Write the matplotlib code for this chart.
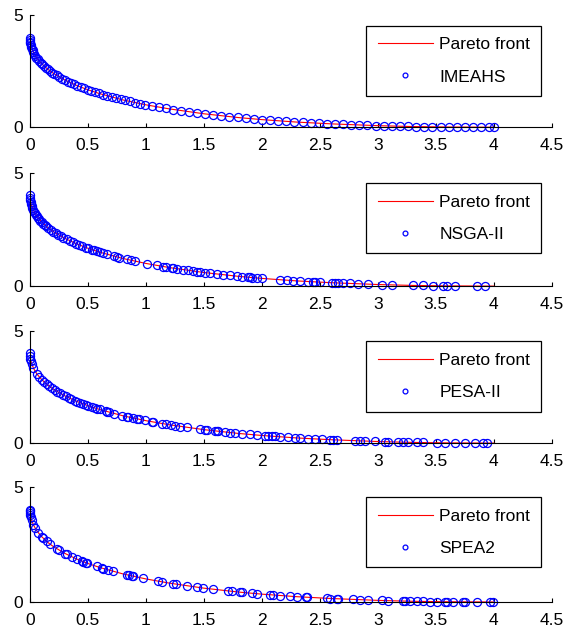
import matplotlib
matplotlib.use("Agg")
import matplotlib.pyplot as plt

plt.rcParams['font.family'] = ['Liberation Sans', 'DejaVu Sans']

# Pareto front (red line)
front_x = [0, 0.002, 0.005, 0.01, 0.03, 0.06, 0.1, 0.15, 0.2, 0.3, 0.4, 0.5, 0.6, 0.8,
           1.0, 1.2, 1.5, 1.8, 2.0, 2.3, 2.6, 3.0, 3.3, 3.6, 4.0]
front_y = [4.00, 3.82, 3.72, 3.61, 3.34, 3.08, 2.84, 2.60, 2.41, 2.11, 1.87, 1.67, 1.50, 1.22,
           1.00, 0.82, 0.60, 0.43, 0.34, 0.23, 0.15, 0.07, 0.03, 0.01, 0.00]

imeahs_x = [0, 0.0005, 0.002, 0.004, 0.007, 0.011, 0.016, 0.022, 0.029, 0.037, 0.046, 0.056,
            0.067, 0.079, 0.092, 0.106, 0.121, 0.137, 0.154, 0.172, 0.191, 0.211, 0.232, 0.254,
            0.277, 0.301, 0.326, 0.352, 0.379, 0.407, 0.436, 0.466, 0.497, 0.529, 0.562, 0.596,
            0.631, 0.667, 0.704, 0.742, 0.781, 0.821, 0.862, 0.904, 0.947, 0.991, 1.05, 1.11,
            1.17, 1.23, 1.30, 1.37, 1.44, 1.51, 1.58, 1.65, 1.72, 1.79, 1.86, 1.93, 2.00, 2.07,
            2.14, 2.21, 2.28, 2.35, 2.42, 2.49, 2.56, 2.63, 2.70, 2.77, 2.84, 2.91, 2.98, 3.05,
            3.12, 3.19, 3.26, 3.33, 3.40, 3.47, 3.54, 3.61, 3.68, 3.75, 3.82, 3.89, 3.96, 4.00]
imeahs_y = [4.00, 3.91, 3.82, 3.75, 3.67, 3.59, 3.51, 3.43, 3.35, 3.27, 3.19, 3.11,
            3.03, 2.95, 2.88, 2.80, 2.73, 2.66, 2.58, 2.51, 2.44, 2.37, 2.31, 2.24,
            2.17, 2.11, 2.04, 1.98, 1.92, 1.86, 1.79, 1.74, 1.68, 1.62, 1.56, 1.51,
            1.45, 1.40, 1.35, 1.30, 1.25, 1.20, 1.15, 1.10, 1.05, 1.01, 0.95, 0.90,
            0.84, 0.79, 0.74, 0.69, 0.64, 0.59, 0.55, 0.51, 0.47, 0.44, 0.40, 0.37, 0.34, 0.32,
            0.29, 0.26, 0.24, 0.22, 0.20, 0.18, 0.16, 0.14, 0.13, 0.11, 0.10, 0.09, 0.07, 0.06,
            0.05, 0.05, 0.04, 0.03, 0.02, 0.02, 0.01, 0.01, 0.01, 0.00, 0.00, 0.00, 0.00, 0.00]

nsga_x = [0, 0.001, 0.003, 0.006, 0.010, 0.014, 0.020, 0.029, 0.036, 0.043, 0.050, 0.057,
          0.068, 0.080, 0.090, 0.101, 0.115, 0.126, 0.138, 0.158, 0.178, 0.201, 0.224, 0.244,
          0.264, 0.287, 0.316, 0.345, 0.368, 0.397, 0.422, 0.445, 0.483, 0.503, 0.532, 0.555,
          0.580, 0.603, 0.632, 0.661, 0.727, 0.747, 0.770, 0.833, 0.871, 0.905, 1.006, 1.092,
          1.149, 1.170, 1.221, 1.236, 1.264, 1.322, 1.365, 1.402, 1.437, 1.466, 1.509, 1.552,
          1.609, 1.667, 1.724, 1.782, 1.825, 1.882, 1.897, 1.911, 1.954, 1.997, 2.155, 2.213,
          2.270, 2.328, 2.399, 2.443, 2.457, 2.500, 2.600, 2.629, 2.658, 2.701, 2.759, 2.830,
          2.917, 3.032, 3.118, 3.305, 3.391, 3.477, 3.563, 3.592, 3.664, 3.851, 3.922]
nsga_y = [4.00, 3.87, 3.78, 3.70, 3.61, 3.54, 3.45, 3.35, 3.28, 3.21, 3.16, 3.10,
          3.02, 2.95, 2.89, 2.83, 2.76, 2.71, 2.65, 2.57, 2.49, 2.41, 2.33, 2.27,
          2.21, 2.14, 2.07, 2.00, 1.94, 1.88, 1.82, 1.78, 1.70, 1.67, 1.61, 1.58,
          1.53, 1.50, 1.45, 1.41, 1.32, 1.29, 1.26, 1.18, 1.14, 1.10, 0.99, 0.91,
          0.86, 0.84, 0.80, 0.79, 0.77, 0.72, 0.69, 0.67, 0.64, 0.62, 0.60, 0.57,
          0.54, 0.50, 0.47, 0.44, 0.42, 0.39, 0.39, 0.38, 0.36, 0.34, 0.28, 0.26,
          0.24, 0.22, 0.20, 0.19, 0.19, 0.18, 0.15, 0.14, 0.14, 0.13, 0.12, 0.10,
          0.09, 0.07, 0.05, 0.03, 0.03, 0.02, 0.01, 0.01, 0.01, 0.00, 0.00]

pesa_x = [0, 0.001, 0.004, 0.008, 0.014, 0.029, 0.057, 0.080, 0.101, 0.124, 0.144, 0.167,
          0.187, 0.216, 0.236, 0.259, 0.282, 0.310, 0.336, 0.353, 0.388, 0.408, 0.431, 0.454,
          0.483, 0.503, 0.532, 0.560, 0.580, 0.603, 0.655, 0.667, 0.684, 0.724, 0.790, 0.833,
          0.848, 0.885, 0.920, 0.943, 0.991, 1.049, 1.063, 1.135, 1.172, 1.213, 1.250, 1.293,
          1.356, 1.466, 1.509, 1.523, 1.595, 1.609, 1.624, 1.681, 1.724, 1.767, 1.825, 1.897,
          1.954, 2.026, 2.055, 2.083, 2.112, 2.155, 2.227, 2.284, 2.328, 2.399, 2.457, 2.514,
          2.586, 2.615, 2.644, 2.802, 2.845, 2.888, 2.974, 3.060, 3.089, 3.175, 3.218, 3.261,
          3.333, 3.391, 3.506, 3.578, 3.664, 3.750, 3.836, 3.908, 3.937]
pesa_y = [4.00, 3.87, 3.75, 3.65, 3.54, 3.35, 3.10, 2.95, 2.83, 2.72, 2.63, 2.53,
          2.46, 2.36, 2.29, 2.22, 2.16, 2.08, 2.02, 1.98, 1.90, 1.85, 1.81, 1.76,
          1.70, 1.67, 1.61, 1.57, 1.53, 1.50, 1.42, 1.40, 1.38, 1.32, 1.23, 1.18,
          1.16, 1.12, 1.08, 1.06, 1.01, 0.95, 0.94, 0.87, 0.84, 0.81, 0.78, 0.74,
          0.70, 0.62, 0.60, 0.59, 0.54, 0.54, 0.53, 0.49, 0.47, 0.45, 0.42, 0.39,
          0.36, 0.33, 0.32, 0.31, 0.30, 0.28, 0.26, 0.24, 0.22, 0.20, 0.19, 0.17,
          0.15, 0.15, 0.14, 0.11, 0.10, 0.09, 0.08, 0.06, 0.06, 0.05, 0.04, 0.04,
          0.03, 0.03, 0.02, 0.01, 0.01, 0.00, 0.00, 0.00, 0.00]

spea_x = [0, 0.0005, 0.001, 0.003, 0.006, 0.014, 0.029, 0.043, 0.072, 0.101, 0.115, 0.144,
          0.172, 0.230, 0.253, 0.302, 0.316, 0.359, 0.408, 0.445, 0.460, 0.483, 0.494, 0.575,
          0.618, 0.632, 0.675, 0.718, 0.833, 0.856, 0.876, 0.891, 0.977, 1.106, 1.135, 1.236,
          1.259, 1.351, 1.437, 1.494, 1.580, 1.710, 1.739, 1.810, 1.825, 1.911, 1.954, 2.069,
          2.098, 2.155, 2.241, 2.299, 2.379, 2.385, 2.557, 2.586, 2.644, 2.658, 2.787, 2.845,
          2.917, 3.032, 3.089, 3.218, 3.233, 3.276, 3.333, 3.391, 3.448, 3.506, 3.578, 3.592,
          3.649, 3.736, 3.750, 3.851, 3.966, 3.989]
spea_y = [4.00, 3.93, 3.87, 3.78, 3.70, 3.54, 3.35, 3.21, 3.00, 2.83, 2.76, 2.63,
          2.51, 2.31, 2.24, 2.10, 2.07, 1.96, 1.85, 1.78, 1.75, 1.70, 1.68, 1.54,
          1.47, 1.45, 1.39, 1.33, 1.18, 1.16, 1.13, 1.12, 1.02, 0.90, 0.87, 0.79,
          0.77, 0.70, 0.64, 0.60, 0.55, 0.48, 0.46, 0.43, 0.42, 0.38, 0.36, 0.32,
          0.30, 0.28, 0.25, 0.23, 0.21, 0.21, 0.16, 0.15, 0.14, 0.14, 0.11, 0.10,
          0.09, 0.07, 0.06, 0.04, 0.04, 0.04, 0.03, 0.03, 0.02, 0.02, 0.01, 0.01,
          0.01, 0.00, 0.00, 0.00, 0.00, 0.00]

series = [("IMEAHS", imeahs_x, imeahs_y),
          ("NSGA-II", nsga_x, nsga_y),
          ("PESA-II", pesa_x, pesa_y),
          ("SPEA2", spea_x, spea_y)]

x_ticks = [0, 0.5, 1, 1.5, 2, 2.5, 3, 3.5, 4, 4.5]
x_labels = ["0", "0.5", "1", "1.5", "2", "2.5", "3", "3.5", "4", "4.5"]
y_ticks = [0, 5]

fig = plt.figure(figsize=(5.66, 6.33), dpi=100)

# axes boxes in figure fractions [left, bottom, width, height]
boxes = [[0.053, 0.799, 0.922, 0.177],
         [0.053, 0.548, 0.922, 0.179],
         [0.053, 0.300, 0.922, 0.177],
         [0.053, 0.049, 0.922, 0.182]]

for box, (name, xs, ys) in zip(boxes, series):
    ax = fig.add_axes(box)
    ax.plot(front_x, front_y, color='red', lw=0.8, label='Pareto front')
    ax.plot(xs, ys, linestyle='none', marker='o', markersize=5.8, markerfacecolor='none',
            markeredgecolor='blue', markeredgewidth=0.9, label=name, clip_on=False)
    ax.set_xlim(0, 4.5)
    ax.set_ylim(0, 5)
    ax.set_xticks(x_ticks)
    ax.set_xticklabels(x_labels)
    ax.set_yticks(y_ticks)
    ax.spines['top'].set_visible(False)
    ax.spines['right'].set_visible(False)
    for s in ('left', 'bottom'):
        ax.spines[s].set_linewidth(0.8)
    ax.tick_params(axis='both', direction='in', length=3, width=0.8, labelsize=12.5)
    ax.tick_params(axis='x', pad=8)
    ax.tick_params(axis='y', pad=5)
    leg = ax.legend(loc='upper right', fontsize=12.5, frameon=True, fancybox=False,
                    edgecolor='black', framealpha=1, handlelength=3.2, handletextpad=0.35,
                    labelspacing=1.0, borderpad=0.65, borderaxespad=0.6, markerscale=0.6)
    leg.get_frame().set_linewidth(0.9)

fig.savefig("out.png", dpi=100)
